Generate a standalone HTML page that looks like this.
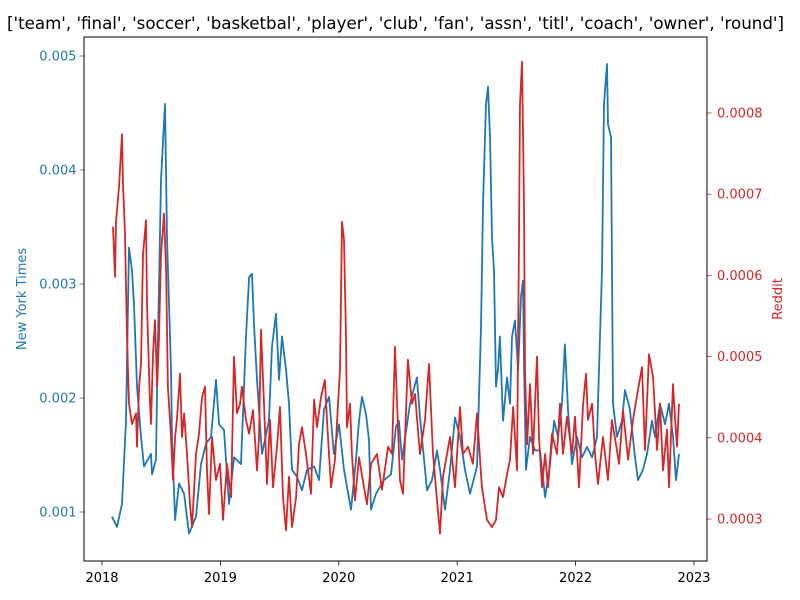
<!DOCTYPE html>
<html><head><meta charset="utf-8"><style>
body{margin:0;background:#fff}
svg{display:block;font-family:"DejaVu Sans","Liberation Sans",sans-serif}
</style></head><body>
<svg id="chart" width="800" height="600">
<rect x="0" y="0" width="800" height="600" fill="#fff"/>
<text x="395.5" y="29" font-size="17" text-anchor="middle" textLength="777" lengthAdjust="spacingAndGlyphs">['team', 'final', 'soccer', 'basketbal', 'player', 'club', 'fan', 'assn', 'titl', 'coach', 'owner', 'round']</text>
<g id="plot"></g>
<rect x="84" y="37" width="623" height="524" fill="none" stroke="#000" stroke-width="1"/>
<text transform="translate(26,299) rotate(-90)" font-size="13" fill="#1f77b4" text-anchor="middle">New York Times</text>
<text transform="translate(782,299) rotate(-90)" font-size="13" fill="#d62728" text-anchor="middle">Reddit</text>
</svg>
<script>
const nytYears=[2018.084,2018.127,2018.169,2018.203,2018.228,2018.253,2018.270,2018.296,2018.329,2018.355,2018.414,2018.422,2018.456,2018.465,2018.498,2018.532,2018.549,2018.583,2018.591,2018.617,2018.650,2018.693,2018.735,2018.794,2018.836,2018.878,2018.921,2018.963,2018.988,2019.030,2019.073,2019.115,2019.174,2019.216,2019.242,2019.267,2019.284,2019.309,2019.351,2019.410,2019.436,2019.470,2019.495,2019.520,2019.554,2019.579,2019.605,2019.647,2019.689,2019.731,2019.791,2019.833,2019.875,2019.917,2019.959,2020.002,2020.044,2020.103,2020.145,2020.171,2020.196,2020.230,2020.255,2020.272,2020.314,2020.382,2020.441,2020.483,2020.508,2020.534,2020.601,2020.660,2020.686,2020.745,2020.787,2020.829,2020.855,2020.897,2020.939,2020.981,2021.024,2021.066,2021.108,2021.167,2021.201,2021.218,2021.243,2021.260,2021.277,2021.294,2021.311,2021.328,2021.345,2021.361,2021.387,2021.421,2021.446,2021.463,2021.488,2021.514,2021.539,2021.556,2021.564,2021.581,2021.615,2021.657,2021.699,2021.742,2021.784,2021.818,2021.851,2021.885,2021.910,2021.936,2021.970,2022.012,2022.054,2022.096,2022.139,2022.181,2022.198,2022.223,2022.240,2022.265,2022.274,2022.299,2022.316,2022.350,2022.392,2022.417,2022.459,2022.502,2022.527,2022.569,2022.603,2022.645,2022.671,2022.713,2022.755,2022.789,2022.823,2022.848,2022.873];
const nytValues=[0.00096,0.00087,0.00107,0.0018,0.00332,0.00312,0.00282,0.0021,0.00166,0.0014,0.00151,0.00133,0.00146,0.0021,0.00391,0.00458,0.00341,0.00225,0.00166,0.00093,0.00125,0.00116,0.00081,0.00096,0.00142,0.0016,0.00166,0.00216,0.00177,0.00172,0.00107,0.00148,0.00142,0.00254,0.00306,0.00309,0.00265,0.00216,0.00151,0.0018,0.00245,0.00274,0.00216,0.00254,0.00225,0.00195,0.00137,0.00131,0.00119,0.00137,0.0014,0.00128,0.0019,0.00201,0.00151,0.00177,0.00137,0.00102,0.00146,0.0018,0.00201,0.00186,0.00163,0.00102,0.00116,0.00128,0.00133,0.00175,0.0018,0.00146,0.00195,0.00218,0.00183,0.00119,0.00128,0.00154,0.00137,0.00102,0.00137,0.00183,0.00166,0.00137,0.00116,0.0014,0.00262,0.0037,0.00458,0.00473,0.00429,0.00341,0.00312,0.0021,0.00225,0.00254,0.0018,0.00218,0.00195,0.00254,0.00268,0.00225,0.00289,0.00303,0.0023,0.00137,0.00166,0.00154,0.00154,0.00113,0.00142,0.0018,0.00166,0.00195,0.00247,0.0019,0.00142,0.00166,0.00148,0.00157,0.00148,0.00166,0.00225,0.00312,0.00458,0.00493,0.0044,0.00429,0.00195,0.00166,0.0018,0.00207,0.0019,0.00148,0.00128,0.00137,0.00151,0.0018,0.00166,0.00195,0.00177,0.00195,0.00166,0.00128,0.00151];
const redditYears=[2018.093,2018.110,2018.118,2018.144,2018.169,2018.177,2018.194,2018.211,2018.228,2018.253,2018.287,2018.296,2018.313,2018.329,2018.346,2018.372,2018.380,2018.405,2018.414,2018.431,2018.448,2018.465,2018.481,2018.498,2018.524,2018.541,2018.557,2018.583,2018.600,2018.617,2018.633,2018.659,2018.676,2018.693,2018.718,2018.743,2018.760,2018.794,2018.819,2018.845,2018.870,2018.887,2018.904,2018.929,2018.963,2018.997,2019.022,2019.056,2019.090,2019.115,2019.140,2019.166,2019.182,2019.216,2019.242,2019.275,2019.309,2019.326,2019.343,2019.368,2019.394,2019.419,2019.444,2019.478,2019.503,2019.529,2019.554,2019.579,2019.605,2019.639,2019.664,2019.689,2019.723,2019.765,2019.791,2019.816,2019.850,2019.883,2019.900,2019.934,2019.968,2019.993,2020.010,2020.027,2020.044,2020.061,2020.069,2020.095,2020.111,2020.137,2020.171,2020.213,2020.238,2020.272,2020.323,2020.365,2020.416,2020.449,2020.475,2020.492,2020.517,2020.542,2020.584,2020.618,2020.644,2020.686,2020.728,2020.762,2020.796,2020.829,2020.855,2020.880,2020.914,2020.939,2020.981,2021.024,2021.049,2021.091,2021.133,2021.167,2021.209,2021.252,2021.294,2021.328,2021.353,2021.387,2021.421,2021.446,2021.472,2021.488,2021.505,2021.522,2021.530,2021.547,2021.564,2021.573,2021.590,2021.615,2021.640,2021.657,2021.674,2021.691,2021.716,2021.742,2021.767,2021.801,2021.843,2021.868,2021.894,2021.927,2021.970,2021.995,2022.029,2022.063,2022.088,2022.105,2022.139,2022.164,2022.189,2022.231,2022.274,2022.307,2022.341,2022.367,2022.400,2022.443,2022.485,2022.527,2022.561,2022.586,2022.620,2022.654,2022.688,2022.713,2022.738,2022.772,2022.789,2022.823,2022.840,2022.856,2022.873];
const redditValues=[0.00066,0.000598,0.000666,0.000709,0.000774,0.000713,0.000651,0.000524,0.000442,0.000417,0.00043,0.000389,0.000463,0.000491,0.000626,0.000668,0.000565,0.000442,0.000417,0.000503,0.000545,0.000463,0.000524,0.000626,0.000676,0.000607,0.000463,0.000401,0.000348,0.000401,0.000422,0.000479,0.000401,0.00043,0.00038,0.000318,0.00029,0.00038,0.000405,0.00045,0.000463,0.00036,0.000306,0.000401,0.000348,0.000368,0.000299,0.000368,0.000327,0.0005,0.00043,0.000442,0.000463,0.000422,0.000405,0.000434,0.00036,0.000401,0.000533,0.000442,0.000343,0.000422,0.000339,0.000389,0.000438,0.000327,0.000286,0.000352,0.00029,0.000327,0.000392,0.000413,0.00038,0.000331,0.000447,0.000413,0.00045,0.000471,0.000422,0.000339,0.000373,0.000442,0.000483,0.000666,0.000644,0.000524,0.000413,0.000442,0.00038,0.000323,0.000376,0.000339,0.000318,0.000368,0.00038,0.000336,0.000389,0.00038,0.000512,0.000442,0.000348,0.000331,0.000496,0.000442,0.000454,0.00038,0.000422,0.000491,0.00038,0.000323,0.000282,0.000352,0.00038,0.000401,0.000339,0.000438,0.00038,0.000389,0.000368,0.00043,0.000339,0.000299,0.00029,0.000299,0.000339,0.000327,0.000355,0.000373,0.000438,0.000401,0.00036,0.000647,0.000811,0.000863,0.000688,0.000483,0.000392,0.000466,0.00038,0.000442,0.0005,0.000401,0.000339,0.00038,0.000339,0.000405,0.00038,0.000442,0.00038,0.000426,0.00038,0.000426,0.000339,0.000442,0.000479,0.000422,0.000442,0.00038,0.000343,0.000401,0.000348,0.000422,0.000392,0.000368,0.000434,0.000373,0.000422,0.000459,0.000487,0.000385,0.000503,0.000475,0.000385,0.000442,0.00036,0.00041,0.000339,0.000466,0.000422,0.000389,0.000442];
const xTickLabels=["2018","2019","2020","2021","2022","2023"];
const leftTickLabels=["0.001","0.002","0.003","0.004","0.005"];
const rightTickLabels=["0.0003","0.0004","0.0005","0.0006","0.0007","0.0008"];

const NS="http://www.w3.org/2000/svg";
const xScale=y=>102+(y-2018)*118.4;
const yLeft=v=>512-(v-0.001)*114000;
const yRight=v=>519-(v-0.0003)*812000;
const plot=document.getElementById('plot');
function mk(tag,attrs){const e=document.createElementNS(NS,tag);for(const k in attrs)e.setAttribute(k,attrs[k]);return e;}

xTickLabels.forEach(t=>{
  const x=xScale(parseFloat(t));
  const l=mk('line',{x1:x,x2:x,y1:561,y2:565.5,stroke:'#000','stroke-width':0.8});
  
  
  plot.appendChild(l);
  const tx=mk('text',{x:x,y:582,'font-size':13,'text-anchor':'middle'});
  
  
  tx.textContent=t;plot.appendChild(tx);
});
leftTickLabels.forEach(t=>{
  const y=yLeft(parseFloat(t));
  const l=mk('line',{x1:79.5,x2:84,y1:y,y2:y,stroke:'#1f77b4','stroke-width':0.8});
  
  
  plot.appendChild(l);
  const tx=mk('text',{x:76.5,y:y+4.5,'font-size':13,'text-anchor':'end',fill:'#1f77b4'});
  
  
  tx.textContent=t;plot.appendChild(tx);
});
rightTickLabels.forEach(t=>{
  const y=yRight(parseFloat(t));
  const l=mk('line',{x1:707,x2:711.5,y1:y,y2:y,stroke:'#d62728','stroke-width':0.8});
  
  
  plot.appendChild(l);
  const tx=mk('text',{x:717,y:y+4.5,'font-size':13,fill:'#d62728'});
  
  
  tx.textContent=t;plot.appendChild(tx);
});
const nytPts=nytYears.map((d,i)=>xScale(d).toFixed(1)+','+yLeft(nytValues[i]).toFixed(1)).join(' ');
const nyt=mk('polyline',{points:nytPts,fill:'none',stroke:'#1f77b4','stroke-width':1.8,'stroke-linejoin':'round'});


plot.appendChild(nyt);
const redPts=redditYears.map((d,i)=>xScale(d).toFixed(1)+','+yRight(redditValues[i]).toFixed(1)).join(' ');
const red=mk('polyline',{points:redPts,fill:'none',stroke:'#d62728','stroke-width':1.8,'stroke-linejoin':'round'});


plot.appendChild(red);
</script>
</body></html>
